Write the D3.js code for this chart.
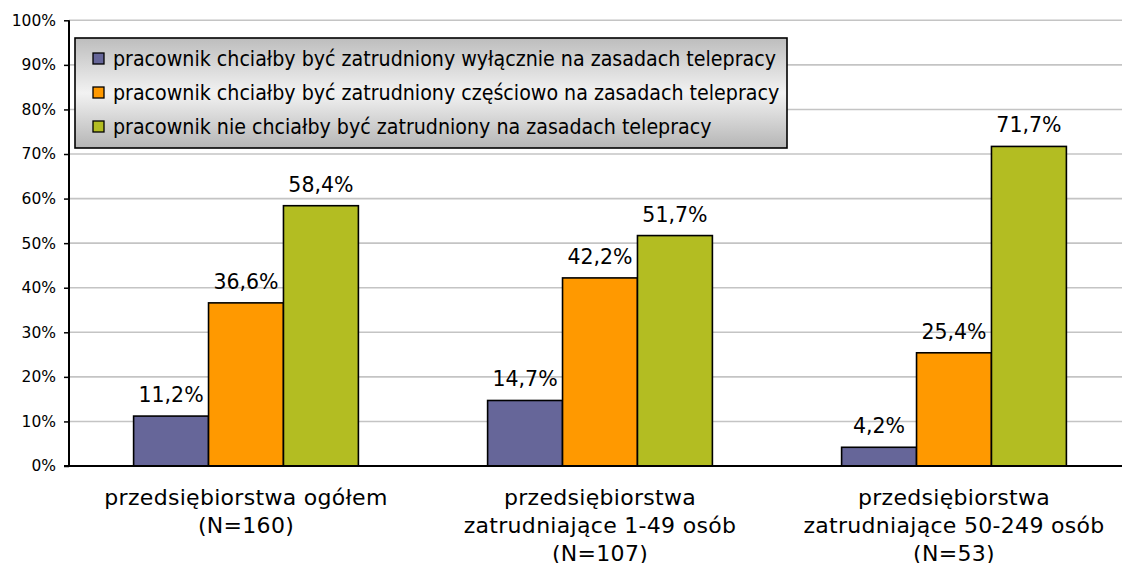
<!DOCTYPE html>
<html><head><meta charset="utf-8">
<script src="https://cdn.jsdelivr.net/npm/d3@7"></script>
<style>body{margin:0;background:#fff;overflow:hidden}svg{display:block}</style>
</head><body>
<script>
const categories = [
  ["przedsiębiorstwa ogółem", "(N=160)"],
  ["przedsiębiorstwa", "zatrudniające 1-49 osób", "(N=107)"],
  ["przedsiębiorstwa", "zatrudniające 50-249 osób", "(N=53)"]
];
const seriesNames = [
  "pracownik chciałby być zatrudniony wyłącznie na zasadach telepracy",
  "pracownik chciałby być zatrudniony częściowo na zasadach telepracy",
  "pracownik nie chciałby być zatrudniony na zasadach telepracy"
];
const exclusively = [11.2, 14.7, 4.2];
const partially = [36.6, 42.2, 25.4];
const notAtAll = [58.4, 51.7, 71.7];
const yTicks = [0, 10, 20, 30, 40, 50, 60, 70, 80, 90, 100];
const colors = ["#666699", "#ff9900", "#b3bd22"];

const W = 1122, H = 563;
const m = {left: 69, top: 20.3, bottom: 97};
const plotW = 1062, plotH = H - m.top - m.bottom;
const series = [exclusively, partially, notAtAll];

const svg = d3.select("body").append("svg").attr("width", W).attr("height", H);
const defs = svg.append("defs");
const lg = defs.append("linearGradient").attr("id","lg").attr("x1",0).attr("y1",0).attr("x2",0).attr("y2",1);
lg.append("stop").attr("offset","0%").attr("stop-color","#bdbdbd");
lg.append("stop").attr("offset","50%").attr("stop-color","#f2f2f2");
lg.append("stop").attr("offset","100%").attr("stop-color","#b5b5b5");

const g = svg.append("g").attr("transform", `translate(${m.left},${m.top})`);
const x0 = d3.scaleBand().domain(d3.range(categories.length)).range([0, plotW]).paddingInner(0).paddingOuter(0);
const x1 = d3.scaleBand().domain(d3.range(series.length)).range([x0.bandwidth()*0.1825, x0.bandwidth()*0.8175]);
const y = d3.scaleLinear().domain([0, 100]).range([plotH, 0]);

// gridlines
g.selectAll(".grid").data(yTicks.filter(d => d > 0)).join("line")
  .attr("x1", 0).attr("x2", plotW).attr("y1", d => y(d)).attr("y2", d => y(d))
  .attr("stroke", "#c4c4c4").attr("stroke-width", 1.6);

// y axis
const yAxis = d3.axisLeft(y).tickValues(yTicks).tickFormat(d => d + "%").tickSize(5).tickPadding(8);
const ya = g.append("g").call(yAxis);
ya.select(".domain").attr("stroke", "#000").attr("stroke-width", 2).attr("d", `M0,${plotH}V0`);
ya.selectAll(".tick line").attr("stroke", "#000").attr("stroke-width", 1.5);
ya.selectAll(".tick text").attr("font-family", "DejaVu Sans, Verdana, sans-serif").attr("font-size", 15.5).attr("fill", "#000");

// bars
series.forEach((vals, si) => {
  const gs = g.append("g");
  gs.selectAll("rect").data(vals).join("rect")
    .attr("x", (d, i) => x0(i) + x1(si))
    .attr("y", d => y(d))
    .attr("width", x1.bandwidth())
    .attr("height", d => plotH - y(d))
    .attr("fill", colors[si]).attr("stroke", "#000").attr("stroke-width", 1.6);
  gs.selectAll("text").data(vals).join("text")
    .attr("x", (d, i) => x0(i) + x1(si) + x1.bandwidth()/2)
    .attr("y", d => y(d) - 14)
    .attr("text-anchor", "middle")
    .attr("font-family", "DejaVu Sans, Verdana, sans-serif").attr("font-size", 20.5)
    .attr("fill", "#000")
    .text(d => d.toFixed(1).replace(".", ",") + "%");
});

// x axis line
g.append("line").attr("x1", -5).attr("x2", plotW).attr("y1", plotH).attr("y2", plotH)
  .attr("stroke", "#000").attr("stroke-width", 2);

// category labels
categories.forEach((lines, i) => {
  const t = g.append("text").attr("text-anchor", "middle")
    .attr("font-family", "DejaVu Sans, Verdana, sans-serif").attr("font-size", 22)
    .attr("letter-spacing", 0.3).attr("fill", "#000");
  lines.forEach((ln, k) => {
    t.append("tspan").attr("x", x0(i) + x0.bandwidth()/2).attr("y", plotH + 39 + k*28).text(ln);
  });
});

// legend
const leg = svg.append("g").attr("transform", "translate(75,38)");
leg.append("rect").attr("x", 0).attr("y", 0).attr("width", 712).attr("height", 110)
  .attr("fill", "url(#lg)").attr("stroke", "#000").attr("stroke-width", 1.6);
seriesNames.forEach((name, i) => {
  const cy = 21 + i * 34;
  leg.append("rect").attr("x", 18).attr("y", cy - 6).attr("width", 11).attr("height", 11)
    .attr("fill", colors[i]).attr("stroke", "#000").attr("stroke-width", 1.3);
  leg.append("text").attr("x", 38).attr("y", cy + 7)
    .attr("font-family", "DejaVu Sans Condensed, DejaVu Sans, Tahoma, sans-serif").attr("font-size", 21.2)
    .attr("fill", "#000").text(name);
});
</script>
</body></html>
